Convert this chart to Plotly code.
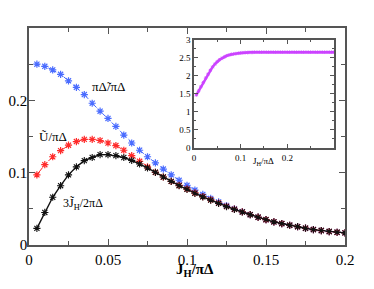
import plotly.graph_objects as go

jh = [0.005 * k for k in range(1, 41)]
delta_ratio = [0.250, 0.247, 0.242, 0.236, 0.227, 0.218, 0.208, 0.196, 0.185, 0.175,
               0.164, 0.152, 0.141, 0.131, 0.122, 0.1135, 0.105, 0.097, 0.0895, 0.0825,
               0.0760, 0.0700, 0.0645, 0.0595, 0.0545, 0.0500, 0.0460, 0.0420, 0.0385, 0.0350,
               0.0320, 0.0296, 0.0273, 0.0253, 0.0232, 0.0213, 0.0200, 0.0186, 0.0176, 0.0168]
u_ratio = [0.097, 0.111, 0.122, 0.1305, 0.138, 0.143, 0.146, 0.146, 0.1445, 0.141,
           0.1375, 0.131, 0.1236, 0.1157, 0.108, 0.1005, 0.094, 0.088, 0.0825, 0.0775,
           0.0720, 0.0670, 0.0625, 0.0580, 0.0535, 0.0495, 0.0458, 0.0420, 0.0385, 0.0350,
           0.0320, 0.0296, 0.0273, 0.0253, 0.0232, 0.0213, 0.0200, 0.0186, 0.0176, 0.0168]
j_ratio = [0.023, 0.045, 0.066, 0.082, 0.097, 0.108, 0.1167, 0.121, 0.125, 0.125,
           0.1235, 0.121, 0.117, 0.112, 0.1065, 0.1005, 0.094, 0.088, 0.082, 0.077,
           0.0715, 0.0665, 0.0620, 0.0575, 0.0530, 0.0493, 0.0456, 0.0419, 0.0384, 0.0350,
           0.0320, 0.0296, 0.0273, 0.0253, 0.0232, 0.0213, 0.0200, 0.0186, 0.0176, 0.0168]

inset_x = [0.005 * k for k in range(1, 61)]
inset_rw = [1.47, 1.58, 1.70, 1.82, 1.94, 2.05, 2.16, 2.25, 2.33, 2.40,
            2.45, 2.49, 2.53, 2.56, 2.58, 2.60, 2.61, 2.62, 2.63, 2.64,
            2.645, 2.65, 2.65, 2.655, 2.655, 2.66, 2.66, 2.66, 2.66, 2.66,
            2.66, 2.66, 2.66, 2.66, 2.66, 2.66, 2.66, 2.66, 2.66, 2.66,
            2.66, 2.66, 2.66, 2.66, 2.66, 2.66, 2.66, 2.66, 2.66, 2.66,
            2.66, 2.66, 2.66, 2.66, 2.66, 2.66, 2.66, 2.66, 2.66, 2.66]

main_ticks_x = [0, 0.05, 0.1, 0.15, 0.2]
main_ticklabels_x = ["0", "0.05", "0.1", "0.15", "0.2"]
main_ticks_y = [0, 0.1, 0.2]
main_ticklabels_y = ["0", "0.1", "0.2"]
inset_ticks_x = [0, 0.1, 0.2]
inset_ticklabels_x = ["0", "0.1", "0.2"]
inset_ticks_y = [0, 0.5, 1, 1.5, 2, 2.5, 3]
inset_ticklabels_y = ["0", "0.5", "1", "1.5", "2", "2.5", "3"]

SERIF = "Liberation Serif"
BLUE = "#4a6cff"
RED = "#ff2a2a"
BLACK = "#111111"
VIOLET = "#cc44ff"
FRAME = "#555555"

fig = go.Figure()
fig.add_trace(go.Scatter(x=jh, y=delta_ratio, mode="lines+markers",
                         line=dict(color=BLUE, width=1, dash="dot"),
                         marker=dict(symbol="asterisk-open", size=6, color=BLUE,
                                     line=dict(color=BLUE, width=1.2)),
                         showlegend=False))
fig.add_trace(go.Scatter(x=jh, y=u_ratio, mode="lines+markers",
                         line=dict(color=RED, width=1, dash="dash"),
                         marker=dict(symbol="asterisk-open", size=6, color=RED,
                                     line=dict(color=RED, width=1.2)),
                         showlegend=False))
fig.add_trace(go.Scatter(x=jh, y=j_ratio, mode="lines+markers",
                         line=dict(color=BLACK, width=1.4),
                         marker=dict(symbol="asterisk-open", size=6, color=BLACK,
                                     line=dict(color=BLACK, width=1.1)),
                         showlegend=False))
fig.add_trace(go.Scatter(x=inset_x, y=inset_rw, mode="lines+markers",
                         xaxis="x2", yaxis="y2",
                         line=dict(color=VIOLET, width=2.5),
                         marker=dict(symbol="asterisk-open", size=3, color=VIOLET,
                                     line=dict(color=VIOLET, width=0.8)),
                         showlegend=False))

axis_common = dict(showgrid=False, zeroline=False, showline=True, linecolor=FRAME,
                   linewidth=1.5, mirror="allticks", ticks="inside", tickcolor=FRAME,
                   automargin=False)

fig.update_layout(
    template="none",
    width=358, height=273,
    margin=dict(l=21, r=21, t=20, b=36),
    plot_bgcolor="white", paper_bgcolor="white",
    font=dict(family=SERIF, color="black"),
    xaxis=dict(range=[0, 0.2], tickvals=main_ticks_x, ticktext=main_ticklabels_x,
               ticklen=6, tickfont=dict(size=15, family=SERIF),
               minor=dict(tickvals=[0.025, 0.075, 0.125, 0.175], ticklen=4,
                          ticks="inside", tickcolor=FRAME),
               **axis_common),
    yaxis=dict(range=[0, 0.3], tickvals=main_ticks_y, ticktext=main_ticklabels_y,
               ticklen=6, tickfont=dict(size=15, family=SERIF), ticklabelstandoff=-3,
               minor=dict(tickvals=[0.05, 0.15, 0.25], ticklen=4,
                          ticks="inside", tickcolor=FRAME),
               **axis_common),
    xaxis2=dict(domain=[0.522, 0.965], anchor="y2", range=[0, 0.3],
                tickvals=inset_ticks_x, ticktext=inset_ticklabels_x,
                ticklen=4, tickfont=dict(size=9, family=SERIF),
                minor=dict(tickvals=[0.05, 0.15, 0.25], ticklen=2,
                           ticks="inside", tickcolor=FRAME),
                **axis_common),
    yaxis2=dict(domain=[0.447, 0.945], anchor="x2", range=[0, 3],
                tickvals=inset_ticks_y, ticktext=inset_ticklabels_y,
                ticklen=4, tickfont=dict(size=9, family=SERIF),
                minor=dict(tickvals=[0.25, 0.75, 1.25, 1.75, 2.25, 2.75], ticklen=2,
                           ticks="inside", tickcolor=FRAME),
                **axis_common),
    annotations=[
        dict(x=0.105, y=-0.117, xref="x", yref="paper", yanchor="middle", xanchor="center",
             text="<b>J<sub>H</sub>/πΔ</b>", showarrow=False,
             font=dict(size=15, family=SERIF)),
        dict(x=0.050, y=0.219, xref="x", yref="y", text="πΔ̃/πΔ", showarrow=False,
             font=dict(size=13, family=SERIF)),
        dict(x=0.015, y=0.150, xref="x", yref="y", text="Ũ/πΔ", showarrow=False,
             font=dict(size=13, family=SERIF)),
        dict(x=0.034, y=0.057, xref="x", yref="y", text="3J̃<sub>H</sub>/2πΔ",
             showarrow=False, font=dict(size=12, family=SERIF)),
        dict(x=0.15, y=0.385, xref="x2", yref="paper", yanchor="middle",
             text="J<sub>H</sub>/πΔ", showarrow=False, font=dict(size=9, family=SERIF)),
        dict(x=-0.045, y=1.5, xref="x2", yref="y2", text="R<sub>W</sub>",
             showarrow=False, font=dict(size=9, family=SERIF)),
    ],
)

fig.write_html("out.html")
